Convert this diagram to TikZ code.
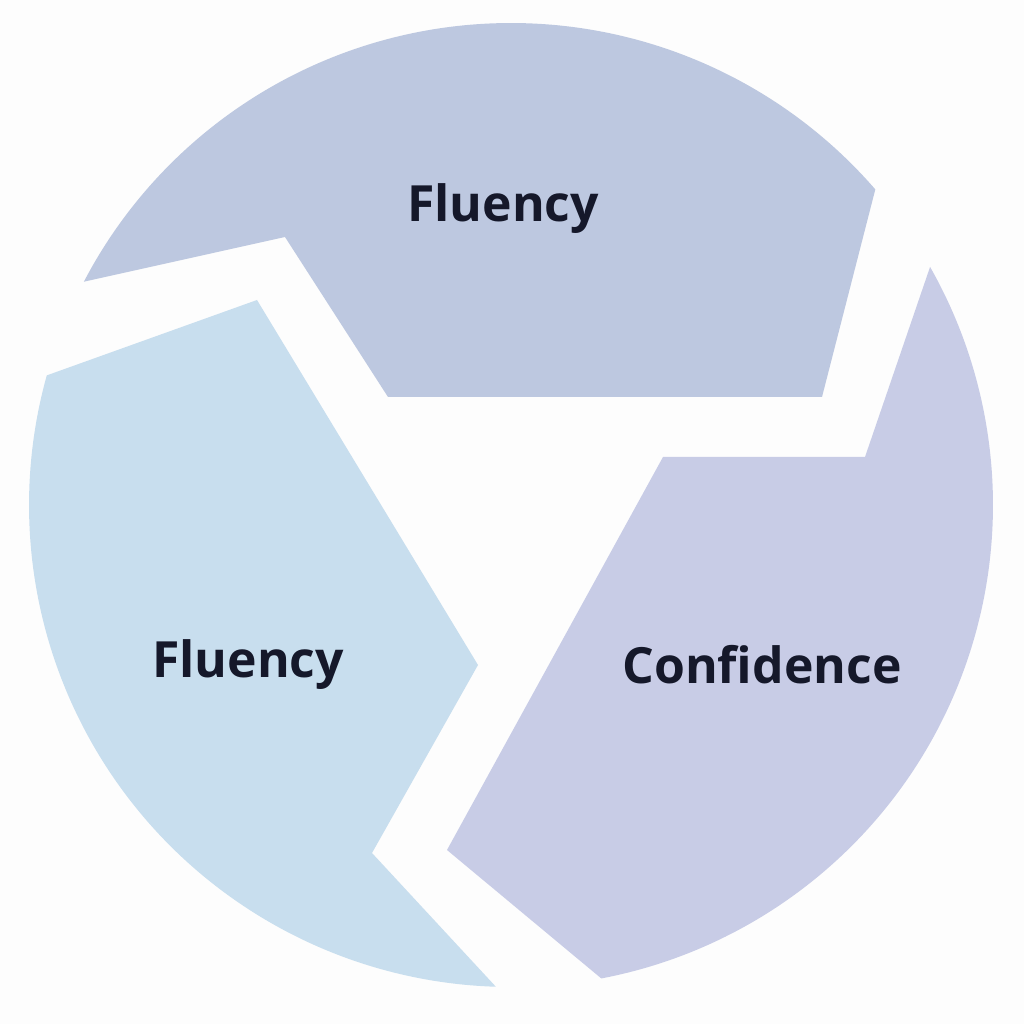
\documentclass[tikz,border=0pt]{standalone}
\usepackage{fontspec}
\setmainfont{Open Sans}
\usepackage{xcolor}
\usepackage{tikz}
\usetikzlibrary{calc}
\definecolor{wheeltop}{RGB}{189,200,224}
\definecolor{wheelleft}{RGB}{200,222,238}
\definecolor{wheelright}{RGB}{200,204,230}
\definecolor{wheeltext}{RGB}{21,24,42}
\definecolor{wheelbg}{RGB}{253,253,253}

\begin{document}
\begin{tikzpicture}[
  segment/.style={draw=none},
  label/.style={font=\fontsize{14.2}{17}\selectfont\bfseries, text=wheeltext}
]
  \fill[wheelbg] (0,0) rectangle (10.24,10.24);
  \useasboundingbox (0,0) rectangle (10.24,10.24);
  \coordinate (c) at (5.11,5.19);

  % top segment
  \coordinate (t1) at (2.85,7.87);
  \coordinate (t2) at (3.88,6.27);
  \coordinate (t3) at (8.22,6.27);
  \fill[segment, wheeltop] ($(c)+(40.9:4.82)$) -- (t3) -- (t2) -- (t1)
    -- ($(c)+(152.4:4.82)$) arc[start angle=152.4, end angle=40.9, radius=4.82] -- cycle;

  % left segment
  \coordinate (l1) at (2.57,7.24);
  \coordinate (l2) at (4.78,3.59);
  \coordinate (l3) at (3.72,1.71);
  \fill[segment, wheelleft] ($(c)+(164.4:4.82)$) -- (l1) -- (l2) -- (l3)
    -- ($(c)+(268.2:4.82)$) arc[start angle=268.2, end angle=164.4, radius=4.82] -- cycle;

  % right segment
  \coordinate (r1) at (8.65,5.67);
  \coordinate (r2) at (6.63,5.67);
  \coordinate (r3) at (4.47,1.74);
  \fill[segment, wheelright] ($(c)+(29.6:4.82)$) -- (r1) -- (r2) -- (r3)
    -- ($(c)+(280.8:4.82)$) arc[start angle=-79.2, end angle=29.6, radius=4.82] -- cycle;

  \node[label] (fluencytop) at (5.03,8.15) {Fluency};
  \node[label] (fluencyleft) at (2.48,3.59) {Fluency};
  \node[label] (confidence) at (7.62,3.59) {Confidence};
\end{tikzpicture}
\end{document}
